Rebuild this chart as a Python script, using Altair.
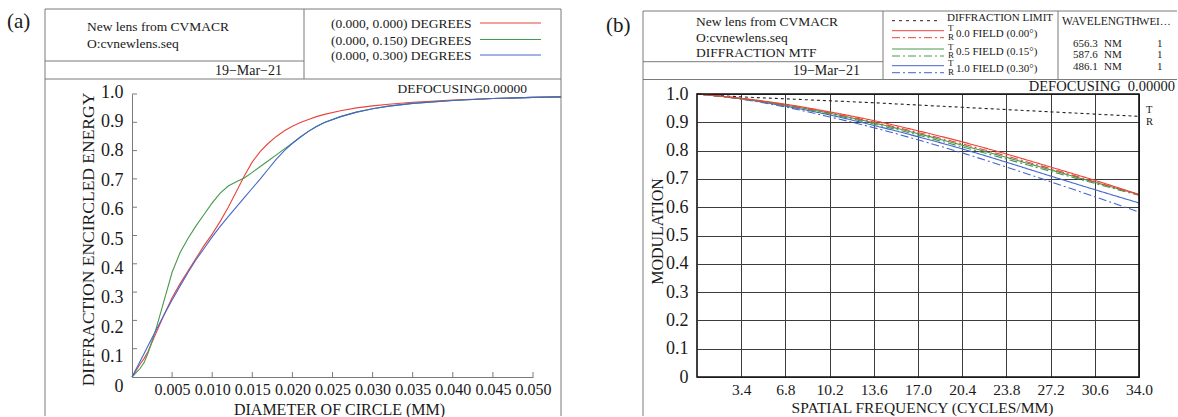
import altair as alt
import pandas as pd

# ---------------- data: panel (a) diffraction encircled energy ----------------
ee_diameter = [0.0, 0.001, 0.0015, 0.002, 0.003, 0.004, 0.005, 0.006, 0.007, 0.008,
               0.009, 0.010, 0.011, 0.012, 0.013, 0.014, 0.015, 0.016, 0.017, 0.018,
               0.019, 0.020, 0.021, 0.022, 0.023, 0.024, 0.026, 0.028, 0.030, 0.032,
               0.035, 0.040, 0.045, 0.050, 0.0535]
ee_field_000 = [0.0, 0.045, 0.065, 0.09, 0.155, 0.22, 0.28, 0.33, 0.375, 0.42,
                0.465, 0.505, 0.55, 0.60, 0.655, 0.71, 0.76, 0.797, 0.826, 0.85,
                0.87, 0.886, 0.899, 0.91, 0.92, 0.928, 0.941, 0.951, 0.958, 0.964,
                0.971, 0.979, 0.984, 0.988, 0.99]
ee_field_015 = [0.0, 0.03, 0.05, 0.085, 0.17, 0.27, 0.37, 0.44, 0.49, 0.535,
                0.575, 0.615, 0.65, 0.675, 0.69, 0.703, 0.723, 0.744, 0.764, 0.785,
                0.806, 0.826, 0.848, 0.868, 0.885, 0.899, 0.92, 0.936, 0.948, 0.957,
                0.967, 0.977, 0.984, 0.988, 0.99]
ee_field_030 = [0.0, 0.055, 0.082, 0.11, 0.165, 0.22, 0.272, 0.322, 0.37, 0.415,
                0.455, 0.495, 0.532, 0.567, 0.60, 0.634, 0.667, 0.70, 0.735, 0.77,
                0.80, 0.826, 0.848, 0.868, 0.885, 0.899, 0.92, 0.936, 0.948, 0.957,
                0.967, 0.977, 0.984, 0.988, 0.99]
ee_series = ["(0.000, 0.000) DEGREES", "(0.000, 0.150) DEGREES", "(0.000, 0.300) DEGREES"]
ee_colors = ["#e8453c", "#46994c", "#4466cc"]
ee_xticks = [0.005, 0.010, 0.015, 0.020, 0.025, 0.030, 0.035, 0.040, 0.045, 0.050]
ee_yticks = [0.0, 0.1, 0.2, 0.3, 0.4, 0.5, 0.6, 0.7, 0.8, 0.9, 1.0]

# ---------------- data: panel (b) diffraction MTF ----------------
mtf_freq = [0.0, 3.4, 6.8, 10.2, 13.6, 17.0, 20.4, 23.8, 27.2, 30.6, 34.0]
mtf_diff_limit = [1.0, 0.990, 0.983, 0.976, 0.969, 0.961, 0.953, 0.945, 0.937, 0.929, 0.921]
mtf_f00_T = [1.0, 0.985, 0.964, 0.937, 0.906, 0.870, 0.831, 0.788, 0.742, 0.695, 0.645]
mtf_f00_R = [1.0, 0.984, 0.962, 0.934, 0.901, 0.864, 0.824, 0.781, 0.736, 0.690, 0.643]
mtf_f05_T = [1.0, 0.984, 0.961, 0.932, 0.898, 0.860, 0.819, 0.776, 0.732, 0.688, 0.645]
mtf_f05_R = [1.0, 0.983, 0.959, 0.929, 0.894, 0.855, 0.813, 0.770, 0.727, 0.684, 0.642]
mtf_f10_T = [1.0, 0.983, 0.957, 0.926, 0.889, 0.849, 0.806, 0.759, 0.710, 0.662, 0.615]
mtf_f10_R = [1.0, 0.982, 0.954, 0.919, 0.881, 0.838, 0.792, 0.742, 0.690, 0.637, 0.583]
mtf_xticks = [3.4, 6.8, 10.2, 13.6, 17.0, 20.4, 23.8, 27.2, 30.6, 34.0]
mtf_yticks = [0.0, 0.1, 0.2, 0.3, 0.4, 0.5, 0.6, 0.7, 0.8, 0.9, 1.0]
mtf_fields = ["0.0 FIELD (0.00°)", "0.5 FIELD (0.15°)", "1.0 FIELD (0.30°)"]
mtf_colors = ["#e8453c", "#46994c", "#4466cc"]
wavelengths = ["656.3", "587.6", "486.1"]
wl_weights = ["1", "1", "1"]

SERIF = "Liberation Serif"
TXT = "#1a1a1a"
BOXC = "#7a7a7a"
ONE = alt.Data(values=[{"k": 0}])
DASHDOT = [8, 3, 2, 3]


def hline(x1, x2, y, ox, oy, color=BOXC, width=1.0, dash=None):
    kw = dict(color=color, strokeWidth=width)
    if dash:
        kw["strokeDash"] = dash
    return alt.Chart(ONE).mark_rule(**kw).encode(
        x=alt.value(x1 - ox), x2=alt.value(x2 - ox),
        y=alt.value(y - oy), y2=alt.value(y - oy))


def vline(x, y1, y2, ox, oy, color=BOXC, width=1.0):
    return alt.Chart(ONE).mark_rule(color=color, strokeWidth=width).encode(
        x=alt.value(x - ox), x2=alt.value(x - ox),
        y=alt.value(y1 - oy), y2=alt.value(y2 - oy))


def label(txt, x, y, ox, oy, size, align="left", limit=None):
    kw = dict(text=txt, font=SERIF, fontSize=size, align=align,
              baseline="middle", color=TXT)
    if limit:
        kw["limit"] = limit
        kw["ellipsis"] = ""
    return alt.Chart(ONE).mark_text(**kw).encode(
        x=alt.value(x - ox), y=alt.value(y - oy))


def extent(ox, oy, x1, x2):
    # invisible rectangle that fixes the panel's layout bounds
    return alt.Chart(ONE).mark_rect(opacity=0).encode(
        x=alt.value(x1 - ox), x2=alt.value(x2 - ox),
        y=alt.value(0 - oy), y2=alt.value(417 - oy))


# ======================= panel (a) =======================
AX, AY = 132, 94
AW, AH = 401, 283

rows = []
for name, vals in zip(ee_series, [ee_field_000, ee_field_015, ee_field_030]):
    for d, e in zip(ee_diameter, vals):
        rows.append({"d": d, "e": e, "s": name})
df_a = pd.DataFrame(rows)

X_A = alt.X("d:Q", scale=alt.Scale(domain=[0, 0.05], nice=False, zero=False),
            axis=alt.Axis(values=ee_xticks, format=".3f", title="DIAMETER OF CIRCLE (MM)",
                          ticks=False, tickSize=0, domainColor=BOXC, grid=False,
                          labelFont=SERIF, labelFontSize=16, labelColor=TXT, labelPadding=4,
                          labelFlush=False, labelOverlap=False,
                          titleFont=SERIF, titleFontSize=16, titleFontWeight="normal",
                          titleColor=TXT, titleX=207, titleY=32, titleAlign="center",
                          titleBaseline="middle"))
Y_A = alt.Y("e:Q", scale=alt.Scale(domain=[0, 1], nice=False, zero=False),
            axis=alt.Axis(values=ee_yticks, title="DIFFRACTION ENCIRCLED ENERGY",
                          labelExpr="datum.value == 0 ? '0' : format(datum.value, '.1f')",
                          labelOffset=alt.ExprRef(expr="-2 + (1 - datum.value) * 11"),
                          ticks=False, tickSize=0, domainColor=BOXC, grid=False,
                          labelFont=SERIF, labelFontSize=18, labelColor=TXT, labelPadding=9,
                          labelFlush=False, labelOverlap=False,
                          titleFont=SERIF, titleFontSize=17.5, titleFontWeight="normal",
                          titleColor=TXT, titleX=-44, titleY=145, titleAngle=270,
                          titleAlign="center", titleBaseline="middle"))

curves_a = alt.Chart(df_a).mark_line(strokeWidth=1.1).encode(
    x=X_A, y=Y_A,
    color=alt.Color("s:N", scale=alt.Scale(domain=ee_series, range=ee_colors), legend=None),
)

# inward tick marks, placed through the same scales
xt_a = alt.Chart(pd.DataFrame({"d": ee_xticks})).mark_rule(color=BOXC, strokeWidth=1).encode(
    x=X_A, y=alt.value(AH), y2=alt.value(AH - 5))
yt_a = alt.Chart(pd.DataFrame({"e": ee_yticks[1:]})).mark_rule(color=BOXC, strokeWidth=1).encode(
    y=Y_A, x=alt.value(0), x2=alt.value(5))

layers_a = [
    extent(AX, AY, 0, 589),
    hline(45, 561, 9, AX, AY), hline(45, 561, 79, AX, AY), hline(45, 304, 61, AX, AY),
    vline(45, 9, 416, AX, AY), vline(561, 9, 416, AX, AY), vline(304, 9, 79, AX, AY),
    label("(a)", 7, 22, AX, AY, 21),
    label("New lens from CVMACR", 87, 26.7, AX, AY, 13.5),
    label("O:cvnewlens.seq", 87, 44, AX, AY, 13.5),
    label("19\u2212Mar\u221221", 282, 70.7, AX, AY, 14, align="right"),
    label("DEFOCUSING0.00000", 527, 89.3, AX, AY, 13.5, align="right"),
]
for i, (name, col) in enumerate(zip(ee_series, ee_colors)):
    yy = [24, 40.5, 56][i]
    layers_a.append(label(name, 331, yy, AX, AY, 13.5))
    layers_a.append(hline(480, 541, yy - 1, AX, AY, color=col, width=1))
layers_a += [curves_a, xt_a, yt_a]

panel_a = alt.layer(*layers_a).properties(width=AW, height=AH)

# ======================= panel (b) =======================
BX, BY = 697, 94
BW, BH = 442, 283

curve_names = ["DIFFRACTION LIMIT", "1.0 R", "1.0 T", "0.5 R", "0.5 T", "0.0 R", "0.0 T"]
curve_vals = [mtf_diff_limit, mtf_f10_R, mtf_f10_T, mtf_f05_R, mtf_f05_T, mtf_f00_R, mtf_f00_T]
curve_cols = ["#222222", mtf_colors[2], mtf_colors[2], mtf_colors[1], mtf_colors[1],
              mtf_colors[0], mtf_colors[0]]
curve_dash = [[3, 3], DASHDOT, [1, 0], DASHDOT, [1, 0], DASHDOT, [1, 0]]
rows = []
for name, vals in zip(curve_names, curve_vals):
    for f, m in zip(mtf_freq, vals):
        rows.append({"f": f, "m": m, "c": name})
df_b = pd.DataFrame(rows)

curves_b = alt.Chart(df_b).mark_line(strokeWidth=1.1, interpolate="monotone").encode(
    x=alt.X("f:Q", scale=alt.Scale(domain=[0, 34], nice=False, zero=False),
            axis=alt.Axis(values=mtf_xticks, format=".1f", title="SPATIAL FREQUENCY (CYCLES/MM)",
                          ticks=False, tickSize=0, domain=False, grid=True,
                          gridColor="#3c3c3c", gridWidth=1, gridOpacity=1,
                          labelFont=SERIF, labelFontSize=15.5, labelColor=TXT, labelPadding=5,
                          labelFlush=False, labelOverlap=False,
                          titleFont=SERIF, titleFontSize=15.5, titleFontWeight="normal",
                          titleColor=TXT, titleX=225, titleY=30, titleAlign="center",
                          titleBaseline="middle")),
    y=alt.Y("m:Q", scale=alt.Scale(domain=[0, 1], nice=False, zero=False),
            axis=alt.Axis(values=mtf_yticks, title="MODULATION",
                          labelExpr="datum.value == 0 ? '0' : format(datum.value, '.1f')",
                          ticks=False, tickSize=0, domain=False, grid=True,
                          gridColor="#3c3c3c", gridWidth=1, gridOpacity=1,
                          labelFont=SERIF, labelFontSize=18, labelColor=TXT, labelPadding=9,
                          labelFlush=False, labelOverlap=False,
                          titleFont=SERIF, titleFontSize=16, titleFontWeight="normal",
                          titleColor=TXT, titleX=-40, titleY=137, titleAngle=270,
                          titleAlign="center", titleBaseline="middle")),
    color=alt.Color("c:N", scale=alt.Scale(domain=curve_names, range=curve_cols), legend=None),
    strokeDash=alt.StrokeDash("c:N", scale=alt.Scale(domain=curve_names, range=curve_dash),
                              legend=None),
)

frame_b = alt.Chart(ONE).mark_rect(fillOpacity=0, stroke="#111111", strokeWidth=1.6).encode(
    x=alt.value(0), x2=alt.value(BW), y=alt.value(0), y2=alt.value(BH))

layers_b = [
    extent(BX, BY, 589, 1178),
    hline(643, 1177, 11, BX, BY), hline(643, 1177, 79.5, BX, BY), hline(643, 883, 61.7, BX, BY),
    vline(643, 11, 416, BX, BY), vline(883, 11, 79.5, BX, BY), vline(1058, 11, 79.5, BX, BY),
    label("(b)", 606, 26, BX, BY, 21),
    label("New lens from CVMACR", 696, 22.3, BX, BY, 13.5),
    label("O:cvnewlens.seq", 696, 37.7, BX, BY, 13.5),
    label("DIFFRACTION MTF", 696, 53.3, BX, BY, 13.5),
    label("19\u2212Mar\u221221", 860, 70.7, BX, BY, 14, align="right"),
    hline(892, 941, 20.7, BX, BY, color="#222222", width=1, dash=[3, 4]),
    label("DIFFRACTION LIMIT", 947, 18, BX, BY, 11),
    label("WAVELENGTH", 1062, 22.3, BX, BY, 11.5),
    label("WEIGHT", 1139, 22.3, BX, BY, 11, limit=38),
    label("DEFOCUSING\u00a0\u00a00.00000", 1175, 87.3, BX, BY, 14.5, align="right"),
    label("T", 1146, 110, BX, BY, 10.5),
    label("R", 1146, 121.5, BX, BY, 10.5),
]
for i, (name, col) in enumerate(zip(mtf_fields, mtf_colors)):
    ys = [30.7, 49, 65.7][i]
    layers_b.append(hline(892, 944, ys, BX, BY, color=col, width=1))
    layers_b.append(hline(892, 944, ys + 7, BX, BY, color=col, width=1, dash=DASHDOT))
    layers_b.append(label("T", 948, ys - 2.5, BX, BY, 9))
    layers_b.append(label("R", 948, ys + 6, BX, BY, 9))
    layers_b.append(label(name, 956, ys + 3, BX, BY, 11))
for i, (wl, w) in enumerate(zip(wavelengths, wl_weights)):
    yy = [44, 55.3, 66.7][i]
    layers_b.append(label(wl, 1073, yy, BX, BY, 11))
    layers_b.append(label("NM", 1104, yy, BX, BY, 11))
    layers_b.append(label(w, 1157, yy, BX, BY, 11))
layers_b += [curves_b, frame_b]

panel_b = alt.layer(*layers_b).properties(width=BW, height=BH)

chart = alt.hconcat(panel_a, panel_b, spacing=0).resolve_scale(
    color="independent", strokeDash="independent"
).properties(
    padding=0
).configure_view(strokeWidth=0)

chart.save("out.html", embed_options={"renderer": "svg", "actions": False})
